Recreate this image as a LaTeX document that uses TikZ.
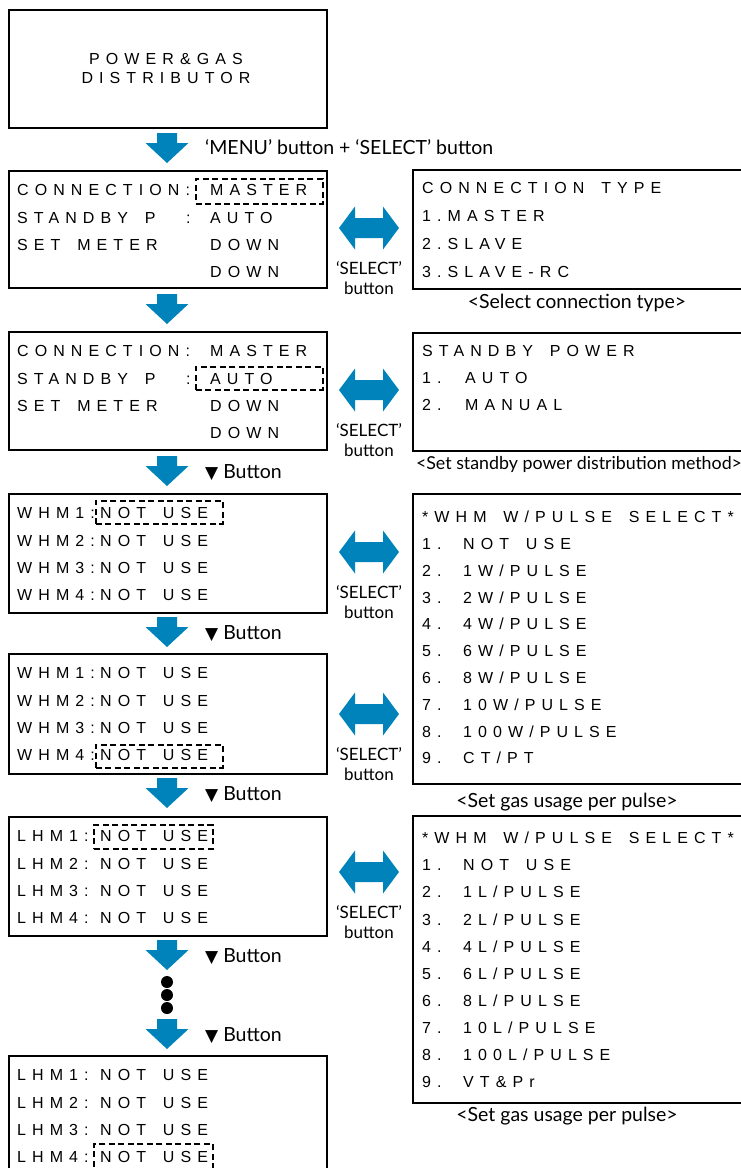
\documentclass[tikz,border=0pt]{standalone}
\usepackage{fontspec}
\setmainfont{Lato}
\newfontfamily\lcdfont[LetterSpace=38, WordSpace=1.6]{Liberation Sans}
\newfontfamily\symfont{DejaVu Sans}
\usetikzlibrary{positioning}

\definecolor{arrblue}{RGB}{0,131,186}

\tikzset{
    screen/.style={draw, line width=2.2pt, anchor=north west, inner sep=0pt},
    cursorbox/.style={draw, line width=1.7pt, dash pattern=on 6pt off 3.5pt, inner sep=0pt, anchor=north west},
    lcd/.style={anchor=west, inner sep=0pt, text height=11.5pt, text depth=0pt, font=\lcdfont\fontsize{16}{16}\selectfont},
    caption/.style={inner sep=0pt, font=\fontsize{19.5}{22}\selectfont},
    btnlabel/.style={inner sep=0pt, align=center, font=\fontsize{17}{20}\selectfont},
    downarr/.pic={\fill[arrblue] (-10,0) -- (-10,10) -- (-21.5,10) -- (0,30) -- (21.5,10) -- (10,10) -- (10,0) -- cycle;},
    lrarr/.pic={\fill[arrblue] (-30,0) -- (-14,-21.5) -- (-14,-10) -- (14,-10) -- (14,-21.5) -- (30,0)
        -- (14,21.5) -- (14,10) -- (-14,10) -- (-14,21.5) -- cycle;}
}

\begin{document}
\begin{tikzpicture}[x=1pt, y=-1pt]
\useasboundingbox (0,0) rectangle (741,1168);

% Left column: screens
\node[screen, minimum width=318pt, minimum height=118pt] (pgd) at (8,9) {};
\node[lcd, anchor=center] (pgd1) at (166,59) {POWER\&GAS};
\node[lcd, anchor=center] (pgd2) at (166,78) {DISTRIBUTOR};

\node[screen, minimum width=318pt, minimum height=117pt] (conn1) at (8,170) {};
\node[screen, minimum width=318pt, minimum height=118pt] (conn2) at (8,331) {};
\node[screen, minimum width=318pt, minimum height=119pt] (whm1) at (8,493) {};
\node[screen, minimum width=318pt, minimum height=120pt] (whm2) at (8,653) {};
\node[screen, minimum width=318pt, minimum height=119pt] (lhm1) at (8,816) {};
\node[screen, minimum width=318pt, minimum height=140pt] (lhm2) at (8,1055) {};

% Right column: selection lists
\node[screen, minimum width=350pt, minimum height=119pt] (ctype) at (412,169) {};
\node[screen, minimum width=350pt, minimum height=118pt] (stby) at (412,332) {};
\node[screen, minimum width=350pt, minimum height=290pt] (wpulse) at (412,493) {};
\node[screen, minimum width=350pt, minimum height=287pt] (lpulse) at (412,815) {};

% Connection screens
\foreach \scr/\top in {conn1/170, conn2/331} {
    \node[lcd] (\scr a) at (17,\top+20) {CONNECTION:};
    \node[lcd] (\scr b) at (17,\top+47.3) {STANDBY P};
    \node[lcd] (\scr bc) at (186,\top+47.3) {:};
    \node[lcd] (\scr c) at (17,\top+74.6) {SET METER};
    \node[lcd] (\scr av) at (210,\top+20) {MASTER};
    \node[lcd] (\scr bv) at (210,\top+47.3) {AUTO};
    \node[lcd] (\scr cv) at (210,\top+74.6) {DOWN};
    \node[lcd] (\scr dv) at (210,\top+101.9) {DOWN};
}
\node[cursorbox, minimum width=127pt, minimum height=25pt] (cur1) at (195,178) {};
\node[cursorbox, minimum width=127pt, minimum height=23pt] (cur2) at (195,366) {};

% WHM / LHM screens
\foreach \scr/\top/\pre in {whm1/493/WHM, whm2/653/WHM, lhm1/816/LHM, lhm2/1055/LHM} {
    \foreach \i in {1,...,4} {
        \node[lcd] (\scr l\i) at (17,\top+20+27.3*\i-27.3) {\pre\i:};
        \node[lcd] (\scr v\i) at (100,\top+20+27.3*\i-27.3) {NOT USE};
    }
}
\node[cursorbox, minimum width=127pt, minimum height=23pt] (cur3) at (95,500) {};
\node[cursorbox, minimum width=127pt, minimum height=23pt] (cur4) at (95,744) {};
\node[cursorbox, minimum width=119pt, minimum height=24pt] (cur5) at (93,824) {};
\node[cursorbox, minimum width=119pt, minimum height=30pt] (cur6) at (93,1143) {};

% Lists
\node[lcd] (cthead) at (422,188) {CONNECTION TYPE};
\foreach \val [count=\i] in {MASTER, SLAVE, SLAVE-RC}
    \node[lcd] (ct\i) at (422,188+28*\i) {\i.\val};

\node[lcd] (sbhead) at (422,351) {STANDBY POWER};
\foreach \val [count=\i] in {AUTO, MANUAL} {
    \node[lcd] (sbn\i) at (422,351+27*\i) {\i.};
    \node[lcd] (sbv\i) at (465,351+27*\i) {\val};
}

\node[lcd] (wphead) at (422,517) {*WHM W/PULSE SELECT*};
\foreach \val [count=\i] in {NOT USE, 1W/PULSE, 2W/PULSE, 4W/PULSE, 6W/PULSE, 8W/PULSE, 10W/PULSE, 100W/PULSE, CT/PT} {
    \node[lcd] (wpn\i) at (422,517+26.8*\i) {\i.};
    \node[lcd] (wpv\i) at (463,517+26.8*\i) {\val};
}

\node[lcd] (lphead) at (422,838) {*WHM W/PULSE SELECT*};
\foreach \val [count=\i] in {NOT USE, 1L/PULSE, 2L/PULSE, 4L/PULSE, 6L/PULSE, 8L/PULSE, 10L/PULSE, 100L/PULSE, VT\&Pr} {
    \node[lcd] (lpn\i) at (422,838+27.1*\i) {\i.};
    \node[lcd] (lpv\i) at (463,838+27.1*\i) {\val};
}

% Captions under lists
\node[caption] (ctcap) at (577,303) {<Select connection type>};
\node[caption, font=\fontsize{17.8}{20}\selectfont] (sbcap) at (579,464) {<Set standby power distribution method>};
\node[caption] (wpcap) at (567,802) {<Set gas usage per pulse>};
\node[caption] (lpcap) at (567,1116) {<Set gas usage per pulse>};

% Down arrows
\foreach \top in {133, 294, 456, 617, 778, 940, 1019}
    \pic at (167,\top) {downarr};
\node[caption, anchor=west] (menulbl) at (205,147) {`MENU' button + `SELECT' button};
\foreach \top [count=\i] in {456, 617, 778, 940, 1019}
    \node[caption, anchor=west] (btn\i) at (205,\top+17) {{\symfont\fontsize{17}{17}\selectfont ▼} Button};

% Dots
\foreach \yy in {982, 995, 1008}
    \fill (167,\yy) circle (6pt);

% Select arrows
\foreach \cy [count=\i] in {228, 390, 552, 714, 872} {
    \pic at (369,\cy) {lrarr};
    \node[btnlabel] (sel\i) at (369,\cy+50) {`SELECT'\\button};
}
\end{tikzpicture}
\end{document}
